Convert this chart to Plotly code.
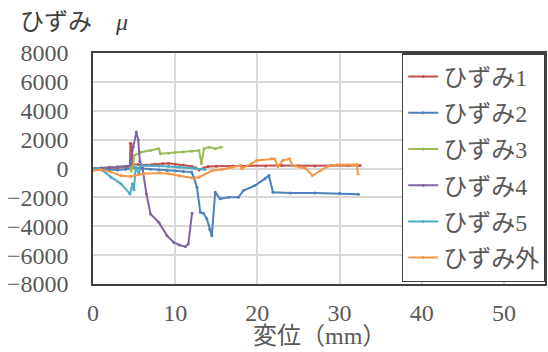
import plotly.graph_objects as go

# ---- data ----
names = ["ひずみ1", "ひずみ2", "ひずみ3", "ひずみ4", "ひずみ5", "ひずみ外"]
colors = ["#C0504D", "#4F81BD", "#9BBB59", "#8064A2", "#4BACC6", "#F79646"]

s1_x = [0, 1, 2, 3, 4, 4.5, 4.55, 4.65, 4.8, 5.5, 6.5, 7.5, 8.5, 9.2, 10, 11, 12, 12.5, 12.9, 13.5, 14, 15, 17, 19, 21, 23, 25, 27, 29, 31, 32.5]
s1_y = [0, 30, 50, 60, 80, 100, 1750, 1700, 300, 280, 250, 300, 330, 360, 300, 250, 150, 50, -100, 50, 140, 160, 180, 200, 180, 200, 190, 180, 200, 210, 200]

s2_x = [0, 1, 2, 3, 4, 5, 6, 7, 8, 9, 10, 11, 12, 12.25, 12.65, 13.06, 13.45, 13.86, 14.2, 14.46, 14.87, 15.47, 16.5, 17.7, 18.3, 19.7, 20.9, 21.4, 21.9, 24, 27, 30, 32.3]
s2_y = [0, -50, -80, -100, -50, 70, 0, -50, -100, -140, -160, -200, -250, -600, -1300, -3030, -3120, -3500, -4200, -4650, -1640, -2100, -1990, -1990, -1530, -1180, -715, -490, -1640, -1700, -1700, -1720, -1780]

s3_x = [0, 1, 2, 3, 4, 4.5, 4.65, 4.9, 5.0, 5.8, 7, 8.0, 8.2, 9.2, 10, 11, 12, 12.9, 13.2, 13.5, 14.1, 14.9, 15.6]
s3_y = [0, 50, 100, 130, 150, 160, -150, 200, 900, 1130, 1250, 1370, 1020, 1060, 1100, 1150, 1200, 1250, 326, 1370, 1480, 1370, 1480]

s4_x = [0, 1, 2, 3, 4, 4.5, 4.9, 5.27, 5.5, 5.7, 6.0, 6.5, 7.0, 8.0, 9.0, 9.8, 10.5, 11.25, 11.6, 12.05]
s4_y = [0, 20, 50, 100, 150, 200, 1500, 2520, 2000, 500, 90, -1760, -3150, -3720, -4650, -5110, -5300, -5410, -5230, -3100]

s5_x = [0, 0.6, 1.17, 2.2, 3.4, 4.5, 4.8, 4.98, 5.2, 5.6, 5.8, 6.8, 8, 9.2, 10.5, 12, 12.45, 13.6]
s5_y = [0, 0, -140, -600, -1060, -1760, -1060, -1480, 90, -370, 200, 200, 180, 140, 100, 50, 0, -70]

s6_x = [0, 1.0, 2.2, 3.4, 4.6, 6.2, 8.2, 9.2, 10.5, 12.05, 12.9, 14.5, 15.7, 16.9, 17.9, 18.1, 19.3, 19.9, 21.7, 22.1, 22.5, 23.1, 23.9, 24.3, 25.9, 26.7, 27.7, 28.5, 29.7, 32.1, 32.25]
s6_y = [-140, -90, -250, -490, -560, -370, -320, -370, -500, -650, -600, -140, -70, 90, 200, 0, 330, 555, 670, 670, 140, 555, 670, 200, 0, -490, -140, 140, 255, 280, -370]

xs = [s1_x, s2_x, s3_x, s4_x, s5_x, s6_x]
ys = [s1_y, s2_y, s3_y, s4_y, s5_y, s6_y]

x_ticks = [0, 10, 20, 30, 40, 50]
y_ticks = [-8000, -6000, -4000, -2000, 0, 2000, 4000, 6000, 8000]

FONT = "'Liberation Serif', 'Noto Sans CJK JP', serif"

fig = go.Figure()
for i in range(6):
    fig.add_trace(go.Scatter(
        x=xs[i], y=ys[i], name=names[i], mode="lines+markers",
        line=dict(color=colors[i], width=2),
        marker=dict(color=colors[i], size=3),
        legendgroup=names[i],
    ))

fig.update_layout(
    width=548, height=352,
    margin=dict(l=93, r=1, t=53, b=68),
    paper_bgcolor="white", plot_bgcolor="white",
    font=dict(family=FONT, size=24, color="#595959"),
    showlegend=True,
    legend=dict(x=0.683, y=1, xanchor="left", yanchor="top",
                bgcolor="white", bordercolor="#404040", borderwidth=1.5,
                font=dict(family=FONT, size=24, color="#595959"),
                tracegroupgap=2),
    xaxis=dict(range=[0, 55], tickvals=x_ticks, showgrid=True,
               gridcolor="#D9D9D9", gridwidth=1.5, zeroline=False,
               showline=True, mirror=True, linecolor="#404040", linewidth=1.5,
               ticklabelstandoff=6, tickfont=dict(family=FONT, size=24, color="#595959")),
    yaxis=dict(range=[-8000, 8000], tickvals=y_ticks, showgrid=True,
               gridcolor="#D9D9D9", gridwidth=1.5, zeroline=False,
               showline=True, mirror=True, linecolor="#404040", linewidth=1.5,
               ticklabelstandoff=18, tickfont=dict(family=FONT, size=24, color="#595959")),
    annotations=[
        dict(text="ひずみ　<i>μ</i>", xref="paper", yref="paper", x=-0.166, y=1.134,
             xanchor="left", yanchor="middle", showarrow=False,
             font=dict(family=FONT, size=24, color="#404040")),
        dict(text="変位（mm）", xref="paper", yref="paper", x=0.5, y=-0.223,
             xanchor="center", yanchor="middle", showarrow=False,
             font=dict(family=FONT, size=24, color="#595959")),
    ],
)

fig.write_html("out.html", config={"displayModeBar": False})

# remove the default page margin so the figure sits at the window's top-left
with open("out.html", encoding="utf-8") as f:
    html = f.read()
html = html.replace("<head>", "<head><style>html,body{margin:0;padding:0;overflow:hidden;}</style>", 1)
with open("out.html", "w", encoding="utf-8") as f:
    f.write(html)
